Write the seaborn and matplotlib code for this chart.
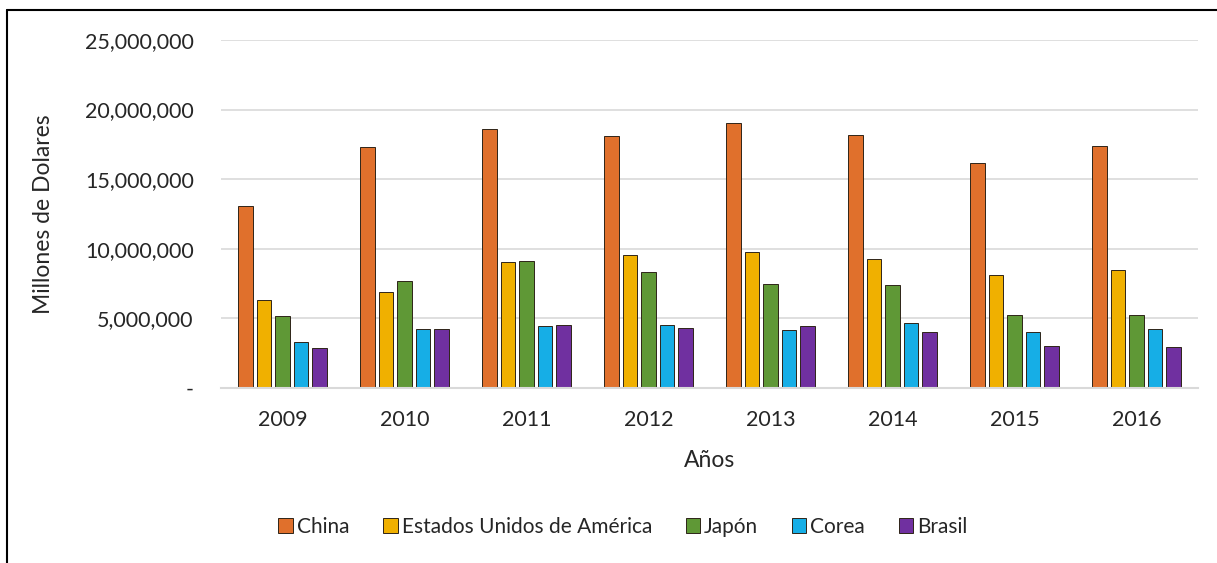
import numpy as np
import pandas as pd
import matplotlib.pyplot as plt
import matplotlib.ticker as mticker
from matplotlib.lines import Line2D
import seaborn as sns

# datos (millones de dolares)
years = ['2009', '2010', '2011', '2012', '2013', '2014', '2015', '2016']
china = [13070000, 17300000, 18600000, 18070000, 19070000, 18140000, 16170000, 17360000]
usa = [6290000, 6880000, 9020000, 9570000, 9760000, 9260000, 8140000, 8480000]
japon = [5140000, 7700000, 9100000, 8300000, 7500000, 7360000, 5260000, 5210000]
corea = [3290000, 4200000, 4450000, 4550000, 4190000, 4660000, 4020000, 4210000]
brasil = [2860000, 4200000, 4520000, 4300000, 4430000, 4020000, 3000000, 2950000]

countries = ['China', 'Estados Unidos de América', 'Japón', 'Corea', 'Brasil']
colors = ['#E0702C', '#F0B000', '#5F9836', '#16AEE6', '#7030A0']

series = [china, usa, japon, corea, brasil]
rows = []
for name, vals in zip(countries, series):
    for y, v in zip(years, vals):
        rows.append({'Año': y, 'País': name, 'Valor': v})
df = pd.DataFrame(rows)

sns.set_style('white')
plt.rcParams['font.family'] = ['Lato', 'DejaVu Sans']

fig = plt.figure(figsize=(12.17, 5.63), dpi=100)
ax = fig.add_axes([0.182, 0.311, 0.802, 0.618])

sns.barplot(data=df, x='Año', y='Valor', hue='País', hue_order=countries,
            palette=colors, saturation=1, width=0.76, gap=0.2,
            edgecolor='#2e2418', linewidth=0.7, ax=ax, legend=False)

ax.set_ylim(0, 25000000)
ax.set_yticks(np.arange(0, 25000001, 5000000))
ax.yaxis.set_major_formatter(mticker.FuncFormatter(
    lambda v, p: '-' if v == 0 else f'{int(v):,}'))
ax.yaxis.grid(True, color='#D9D9D9', linewidth=1.2)
ax.set_axisbelow(True)
for s in ['top', 'right', 'left']:
    ax.spines[s].set_visible(False)
ax.spines['bottom'].set_color('#D9D9D9')
ax.spines['bottom'].set_linewidth(1.5)
ax.tick_params(axis='y', length=0, labelsize=15.5, pad=20)
ax.tick_params(axis='x', length=0, labelsize=15.5, pad=16)
ax.set_xlabel('Años', fontsize=16.5, labelpad=14)
ax.set_ylabel('Millones de Dolares', fontsize=16.5, labelpad=22)

handles = [plt.Rectangle((0, 0), 1, 1, facecolor=c, edgecolor='#2e2418', linewidth=0.7)
           for c in colors]
fig.legend(handles, countries, loc='center', bbox_to_anchor=(0.512, 0.064), ncol=5,
           frameon=False, fontsize=15, handlelength=0.7, handleheight=0.7,
           handletextpad=0.2, columnspacing=1.6)

# borde del area del grafico (solo se ve arriba y a la izquierda)
fig.add_artist(Line2D([0.006, 1.0], [0.982, 0.982], color='black', linewidth=1.5))
fig.add_artist(Line2D([0.006, 0.006], [0.0, 0.982], color='black', linewidth=1.5))

plt.savefig('out.png', dpi=100)
plt.close()
